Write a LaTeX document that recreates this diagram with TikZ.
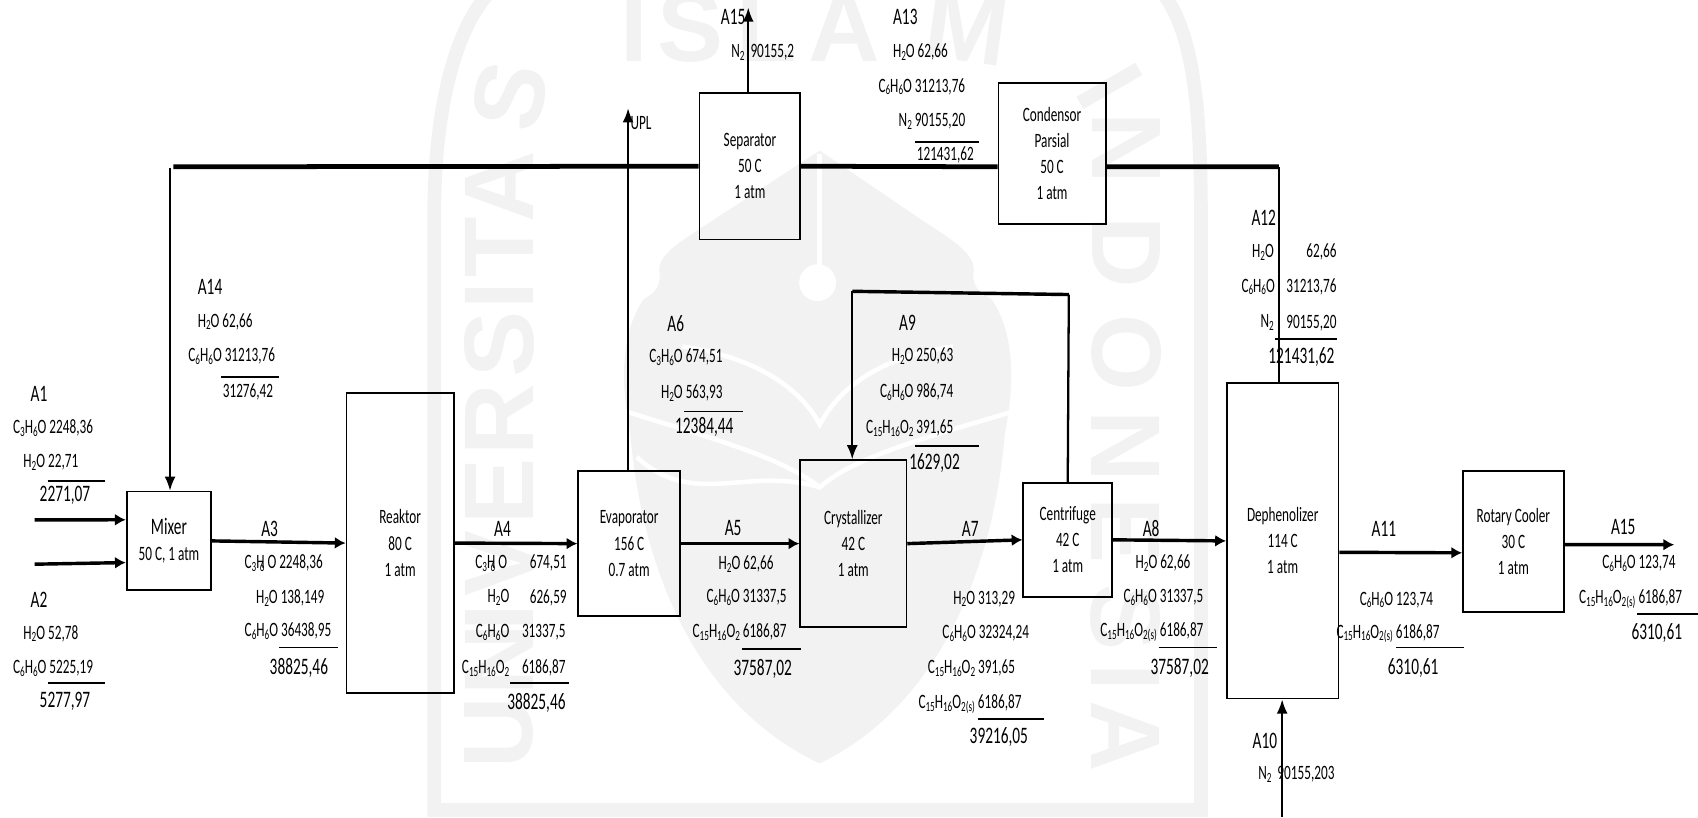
\documentclass[tikz,border=0pt]{standalone}
\usepackage{fontspec}
\setmainfont[FakeStretch=0.65]{Carlito}
\newfontfamily\wmfont{Liberation Sans}
\usetikzlibrary{arrows.meta}
\definecolor{wmgray}{RGB}{242,242,242}
\newcommand{\low}[1]{\raisebox{-0.3ex}{\fontsize{3.7}{4}\selectfont #1}}
\tikzset{
  unitbox/.style={draw, line width=0.45pt, align=center, inner sep=0pt, font=\fontsize{5.35}{6.85}\selectfont},
  txt/.style={inner sep=0pt, font=\fontsize{5.35}{6.85}\selectfont},
  bigtxt/.style={inner sep=0pt, font=\fontsize{6.2}{7}\selectfont},
  flow/.style={line width=0.9pt, -{Latex[length=0.1cm,width=0.11cm]}},
  thinflow/.style={line width=0.5pt, -{Latex[length=0.13cm,width=0.1cm]}},
  bus/.style={line width=1.25pt},
  sumline/.style={line width=0.45pt},
  wmtxt/.style={inner sep=0pt, text=wmgray, font=\wmfont\bfseries\fontsize{26}{26}\selectfont},
}
\begin{document}
\begin{tikzpicture}[x=0.01cm,y=-0.01cm]
\useasboundingbox (0,0) rectangle (1568,754.5);

% Watermark
\begin{scope}
\clip (0,0) rectangle (1568,754.5);
\draw[wmgray, line width=3.6pt] (450,-5) .. controls (420,30) and (401,100) .. (401,200)
  -- (401,748) -- (1109,748) -- (1109,200) .. controls (1109,90) and (1100,30) .. (1075,-5);
\foreach \ch/\px/\py/\rr [count=\i] in {U/461/677/90,N/461/609/90,I/461/570/90,V/461/520/90,E/461/454/90,R/461/388/90,
  S/461/318/90,I/461/273/90,T/461/228/90,A/461/172/90,S/471/89/78,
  I/586/25/0,S/638/25/0,L/708/25/0,A/780/25/0,M/893/25/-8,
  I/1025/80/-60,N/1040/137/-90,D/1040/233/-90,O/1040/326/-90,N/1039/412/-90,E/1039/490/-90,S/1039/570/-90,I/1039/625/-90,A/1039/680/-90}
  \node[wmtxt, rotate=\rr] (wm\i) at (\px,\py) {\ch};
\fill[wmgray] (757,139) -- (659,203) .. controls (630,222) and (606,235) .. (609,252)
  .. controls (611,268) and (600,272) .. (594,277) .. controls (578,300) and (570,340) .. (582,400)
  .. controls (592,520) and (640,650) .. (757,705) .. controls (870,650) and (918,520) .. (928,400)
  .. controls (940,340) and (932,300) .. (916,277) .. controls (910,272) and (897,268) .. (899,252)
  .. controls (902,235) and (880,222) .. (851,203) -- cycle;
\draw[white, line width=1.2pt] (630,320) .. controls (700,330) and (740,360) .. (757,392)
  .. controls (774,360) and (810,330) .. (880,320);
\draw[white, line width=1.2pt] (572,378) .. controls (640,400) and (720,420) .. (757,450)
  .. controls (790,420) and (870,400) .. (942,378);
\draw[white, line width=1.2pt] (588,422) .. controls (640,470) and (690,430) .. (757,450);
\draw[white, line width=1.2pt] (757,142) -- (757,261);
\fill[white] (755,261) circle (17);
\end{scope}

% Units
\node[unitbox, minimum width=0.78cm, minimum height=0.91cm] (mixer) at (156,499.5) {{\fontsize{6.2}{6.85}\selectfont Mixer}\\50 C, 1 atm};
\node[unitbox, minimum width=0.99cm, minimum height=2.77cm] (reaktor) at (369.5,501.5) {Reaktor\\80 C\\1 atm};
\node[unitbox, minimum width=0.94cm, minimum height=1.34cm] (evaporator) at (581,502) {Evaporator\\156 C\\0.7 atm};
\node[unitbox, minimum width=0.98cm, minimum height=1.54cm] (crystallizer) at (788,502) {Crystallizer\\42 C\\1 atm};
\node[unitbox, minimum width=0.82cm, minimum height=1.05cm] (centrifuge) at (986,498.5) {Centrifuge\\42 C\\1 atm};
\node[unitbox, minimum width=1.03cm, minimum height=2.91cm] (dephenolizer) at (1184.5,499.5) {Dephenolizer\\114 C\\1 atm};
\node[unitbox, minimum width=0.93cm, minimum height=1.30cm] (cooler) at (1397.5,500) {Rotary Cooler\\30 C\\1 atm};
\node[unitbox, minimum width=0.93cm, minimum height=1.35cm] (separator) at (692.5,153.5) {Separator\\50 C\\1 atm};
\node[unitbox, minimum width=0.99cm, minimum height=1.30cm] (condensor) at (971.5,142) {Condensor\\Parsial\\50 C\\1 atm};

% Free ends
\coordinate (feedA) at (32,480);
\coordinate (feedB) at (32,521);
\coordinate (busL) at (160,154);
\coordinate (busR) at (1181,154);
\coordinate (recycleL) at (787,269);
\coordinate (recycleR) at (987,272);
\coordinate (topout) at (691,7);
\coordinate (upl) at (580,100);
\coordinate (nitrogen) at (1184,754.5);
\coordinate (product) at (1546,503);

% Streams
\draw[flow] (feedA) -- ([yshift=0.195cm]mixer.west);
\draw[flow] (feedB) -- ([yshift=-0.2cm]mixer.west);
\draw[flow] (mixer.east) -- (reaktor.west);
\draw[flow] (reaktor.east) -- (evaporator.west);
\draw[flow] (evaporator.east) -- (crystallizer.west);
\draw[flow] (crystallizer.east) -- (centrifuge.west);
\draw[flow] (centrifuge.east) -- (dephenolizer.west);
\draw[flow] ([yshift=-0.105cm]dephenolizer.east) -- ([yshift=-0.105cm]cooler.west);
\draw[flow] ([yshift=-0.03cm]cooler.east) -- (product);

% Top line and recycle
\draw[bus] (busL) -- (separator.west);
\draw[bus] (separator.east) -- ([yshift=-0.12cm]condensor.west);
\draw[bus] ([yshift=-0.12cm]condensor.east) -- (busR);
\draw[line width=0.5pt] (busR) -- (busR |- dephenolizer.north);
\draw[thinflow] (157,155) -- (mixer.north -| 157,155);
\draw[thinflow] (580,435) -- (upl);
\draw[thinflow] (separator.north -| topout) -- (topout);
\draw[thinflow] (nitrogen) -- (dephenolizer.south -| nitrogen);
\draw[line width=0.6pt] (centrifuge.north) -- (recycleR);
\draw[line width=0.9pt] (recycleR) -- (recycleL);
\draw[thinflow] (recycleL) -- (crystallizer.north -| recycleL);

% A1
\node[bigtxt] (a1name) at (36,364) {A1};
\node[txt] (a1c) at (49,395) {C\low{3}H\low{6}O 2248,36};
\node[txt] (a1w) at (47,427) {H\low{2}O 22,71};
\draw[sumline] (44,444) -- (97,444);
\node[bigtxt] (a1sum) at (60,457) {2271,07};

% A2
\node[bigtxt] (a2name) at (36,554) {A2};
\node[txt] (a2w) at (47,585) {H\low{2}O 52,78};
\node[txt] (a2p) at (49,617) {C\low{6}H\low{6}O 5225,19};
\draw[sumline] (44,631) -- (97,631);
\node[bigtxt] (a2sum) at (60,648) {5277,97};

% A14
\node[bigtxt] (a14name) at (194,265) {A14};
\node[txt] (a14w) at (208,297) {H\low{2}O 62,66};
\node[txt] (a14p) at (214,329) {C\low{6}H\low{6}O 31213,76};
\draw[sumline] (204,348) -- (258,348);
\node[txt] (a14sum) at (229,362) {31276,42};

% A3
\node[bigtxt] (a3name) at (249,488) {A3};
\node[txt] (a3c) at (262,520) {C\low{3}H\llap{\low{6}}\ O 2248,36};
\node[txt] (a3w) at (268,552) {H\low{2}O 138,149};
\node[txt] (a3p) at (266,583) {C\low{6}H\low{6}O 36438,95};
\draw[sumline] (258,598) -- (312,598);
\node[bigtxt] (a3sum) at (276,617) {38825,46};

% A4
\node[bigtxt] (a4name) at (464,488) {A4};
\node[txt, anchor=east] (a4c) at (469,520) {C\low{3}H\llap{\low{6}}\ O};
\node[txt, anchor=east] (a4cv) at (524,520) {674,51};
\node[txt, anchor=east] (a4w) at (471,552) {H\low{2}O};
\node[txt, anchor=east] (a4wv) at (524,552) {626,59};
\node[txt, anchor=east] (a4p) at (471,584) {C\low{6}H\low{6}O};
\node[txt, anchor=east] (a4pv) at (523,584) {31337,5};
\node[txt, anchor=east] (a4b) at (471,617) {C\low{15}H\low{16}O\low{2}};
\node[txt, anchor=east] (a4bv) at (523,617) {6186,87};
\draw[sumline] (471,631) -- (525,631);
\node[bigtxt, anchor=east] (a4sum) at (523,649) {38825,46};

% A6
\node[bigtxt] (a6name) at (624,299) {A6};
\node[txt, anchor=east] (a6c) at (668,330) {C\low{3}H\low{6}O 674,51};
\node[txt, anchor=east] (a6w) at (668,363) {H\low{2}O 563,93};
\draw[sumline] (632,380) -- (686,380);
\node[bigtxt, anchor=east] (a6sum) at (678,394) {12384,44};
\node[txt] (upltext) at (592,114) {UPL};

% A5
\node[bigtxt] (a5name) at (677,488) {A5};
\node[txt, anchor=east] (a5w) at (715,521) {H\low{2}O 62,66};
\node[txt, anchor=east] (a5p) at (727,552) {C\low{6}H\low{6}O 31337,5};
\node[txt, anchor=east] (a5b) at (727,584) {C\low{15}H\low{16}O\low{2} 6186,87};
\draw[sumline] (685,599) -- (740,599);
\node[bigtxt, anchor=east] (a5sum) at (732,618) {37587,02};

% A9
\node[bigtxt] (a9name) at (838,298) {A9};
\node[txt, anchor=east] (a9w) at (881,329) {H\low{2}O 250,63};
\node[txt, anchor=east] (a9p) at (881,362) {C\low{6}H\low{6}O 986,74};
\node[txt, anchor=east] (a9b) at (881,395) {C\low{15}H\low{16}O\low{2} 391,65};
\draw[sumline] (845,412) -- (904,412);
\node[bigtxt, anchor=east] (a9sum) at (887,428) {1629,02};

% A7
\node[bigtxt] (a7name) at (896,488) {A7};
\node[txt, anchor=east] (a7w) at (938,553) {H\low{2}O 313,29};
\node[txt, anchor=east] (a7p) at (951,585) {C\low{6}H\low{6}O 32324,24};
\node[txt, anchor=east] (a7b) at (938,617) {C\low{15}H\low{16}O\low{2} 391,65};
\node[txt, anchor=east] (a7s) at (944,650) {C\low{15}H\low{16}O\low{2(s)} 6186,87};
\draw[sumline] (903,664) -- (964,664);
\node[bigtxt, anchor=east] (a7sum) at (950,681) {39216,05};

% A8
\node[bigtxt] (a8name) at (1063,488) {A8};
\node[txt, anchor=east] (a8w) at (1100,520) {H\low{2}O 62,66};
\node[txt, anchor=east] (a8p) at (1112,552) {C\low{6}H\low{6}O 31337,5};
\node[txt, anchor=east] (a8s) at (1112,584) {C\low{15}H\low{16}O\low{2(s)} 6186,87};
\draw[sumline] (1070,598) -- (1124,598);
\node[bigtxt, anchor=east] (a8sum) at (1117,617) {37587,02};

% A10
\node[bigtxt] (a10name) at (1168,684) {A10};
\node[txt, anchor=east] (a10n) at (1233,715) {N\low{2}\ \ 90155,203};

% A11
\node[bigtxt] (a11name) at (1278,488) {A11};
\node[txt, anchor=east] (a11p) at (1324,554) {C\low{6}H\low{6}O 123,74};
\node[txt, anchor=east] (a11s) at (1330,585) {C\low{15}H\low{16}O\low{2(s)} 6186,87};
\draw[sumline] (1289,598) -- (1352,598);
\node[bigtxt, anchor=east] (a11sum) at (1329,617) {6310,61};

% A15, product
\node[bigtxt] (a15name) at (1499,487) {A15};
\node[txt, anchor=east] (a15p) at (1548,520) {C\low{6}H\low{6}O 123,74};
\node[txt, anchor=east] (a15s) at (1554,553) {C\low{15}H\low{16}O\low{2(s)} 6186,87};
\draw[sumline] (1512,567) -- (1568,567);
\node[bigtxt, anchor=east] (a15sum) at (1554,585) {6310,61};

% A12
\node[bigtxt] (a12name) at (1167,201) {A12};
\node[txt, anchor=east] (a12w) at (1177,233) {H\low{2}O};
\node[txt, anchor=east] (a12wv) at (1235,233) {62,66};
\node[txt, anchor=east] (a12p) at (1178,265) {C\low{6}H\low{6}O};
\node[txt, anchor=east] (a12pv) at (1235,265) {31213,76};
\node[txt, anchor=east] (a12n) at (1177,298) {N\low{2}};
\node[txt, anchor=east] (a12nv) at (1235,298) {90155,20};
\draw[sumline] (1177,313) -- (1235,313);
\node[bigtxt, anchor=east] (a12sum) at (1233,330) {121431,62};

% A13
\node[bigtxt] (a13name) at (836,16) {A13};
\node[txt, anchor=east] (a13w) at (876,48) {H\low{2}O 62,66};
\node[txt, anchor=east] (a13p) at (892,80) {C\low{6}H\low{6}O 31213,76};
\node[txt, anchor=east] (a13n) at (892,112) {N\low{2} 90155,20};
\draw[sumline] (845,131) -- (904,131);
\node[txt, anchor=east] (a13sum) at (900,143) {121431,62};

% Top stream
\node[bigtxt] (topname) at (677,16) {A15};
\node[txt, anchor=east] (topn) at (734,48) {N\low{2}\ \ 90155,2};

\end{tikzpicture}
\end{document}
